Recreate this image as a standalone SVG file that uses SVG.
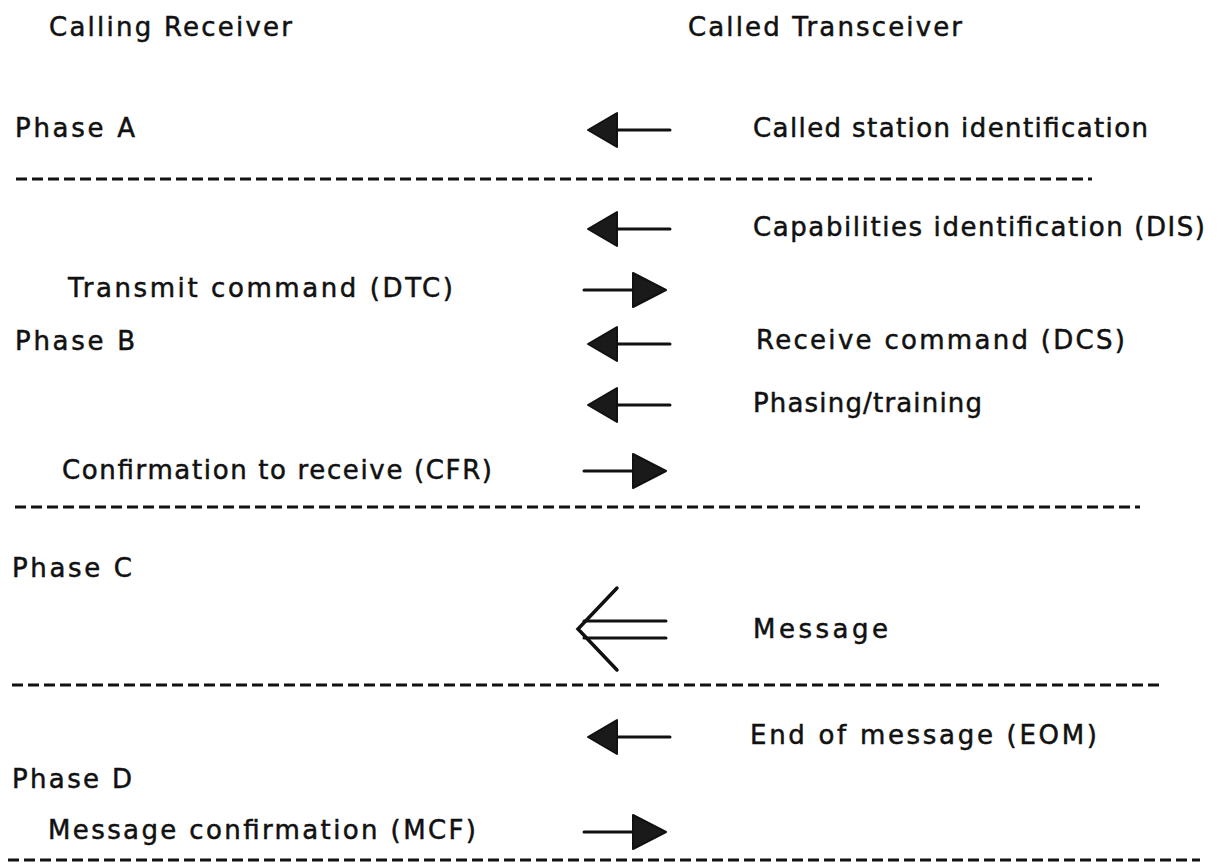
<svg xmlns="http://www.w3.org/2000/svg" width="1232" height="865" viewBox="0 0 1232 865">
<defs>
<style>
text{font-family:"DejaVu Sans","Liberation Sans",sans-serif;font-size:26px;fill:#111;stroke:#111;stroke-width:0.5;}
.dash{stroke:#111;stroke-width:3;stroke-dasharray:11 5;fill:none;}
.shaft{stroke:#111;stroke-width:3;fill:none;stroke-linecap:round;}
.head{fill:#1a1a1a;stroke:#111;stroke-width:2;stroke-linejoin:round;}
.open{stroke:#111;stroke-width:3.5;fill:none;stroke-linecap:round;stroke-linejoin:miter;}
</style>
<g id="arrowL"><path class="head" d="M0 0 L29 -17 L29 17 Z"/><line class="shaft" x1="29" y1="0" x2="82" y2="0"/></g>
<g id="arrowR"><line class="shaft" x1="0" y1="0" x2="50" y2="0"/><path class="head" d="M49 -17 L82 0 L49 17 Z"/></g>
</defs>
<rect width="1232" height="865" fill="#fff"/>

<g id="headers">
<text x="49" y="36" textLength="243" lengthAdjust="spacing">Calling Receiver</text>
<text x="688" y="36" textLength="274" lengthAdjust="spacing">Called Transceiver</text>
</g>

<g id="phaseA">
<text x="15" y="137" textLength="120" lengthAdjust="spacing">Phase A</text>
<text x="753" y="137" textLength="395" lengthAdjust="spacing">Called station identification</text>
</g>

<g id="phaseB">
<text x="753" y="236" textLength="452" lengthAdjust="spacing">Capabilities identification (DIS)</text>
<text x="68" y="297" textLength="385" lengthAdjust="spacing">Transmit command (DTC)</text>
<text x="15" y="350" textLength="120" lengthAdjust="spacing">Phase B</text>
<text x="756" y="349" textLength="369" lengthAdjust="spacing">Receive command (DCS)</text>
<text x="753" y="412" textLength="229" lengthAdjust="spacing">Phasing/training</text>
<text x="62" y="479" textLength="430" lengthAdjust="spacing">Confirmation to receive (CFR)</text>
</g>

<g id="phaseC">
<text x="12" y="577" textLength="120" lengthAdjust="spacing">Phase C</text>
<text x="753" y="638" textLength="135" lengthAdjust="spacing">Message</text>
</g>

<g id="phaseD">
<text x="750" y="744" textLength="347" lengthAdjust="spacing">End of message (EOM)</text>
<text x="12" y="788" textLength="120" lengthAdjust="spacing">Phase D</text>
<text x="48" y="839" textLength="428" lengthAdjust="spacing">Message confirmation (MCF)</text>
</g>

<g id="separators">
<line class="dash" x1="16" y1="179" x2="1092" y2="179"/>
<line class="dash" x1="15" y1="507" x2="1140" y2="507"/>
<line class="dash" x1="12" y1="685" x2="1160" y2="685"/>
<line class="dash" x1="8" y1="860" x2="1200" y2="860"/>
</g>

<g id="connectors">
<use href="#arrowL" x="588" y="130"/>
<use href="#arrowL" x="588" y="229"/>
<use href="#arrowR" x="584" y="290"/>
<use href="#arrowL" x="588" y="344"/>
<use href="#arrowL" x="588" y="405"/>
<use href="#arrowR" x="584" y="471"/>
<path class="open" d="M617 588 L578 629 L617 670"/>
<line class="shaft" x1="584" y1="621" x2="666" y2="621"/>
<line class="shaft" x1="584" y1="638" x2="666" y2="638"/>
<use href="#arrowL" x="588" y="737"/>
<use href="#arrowR" x="584" y="832"/>
</g>
</svg>
